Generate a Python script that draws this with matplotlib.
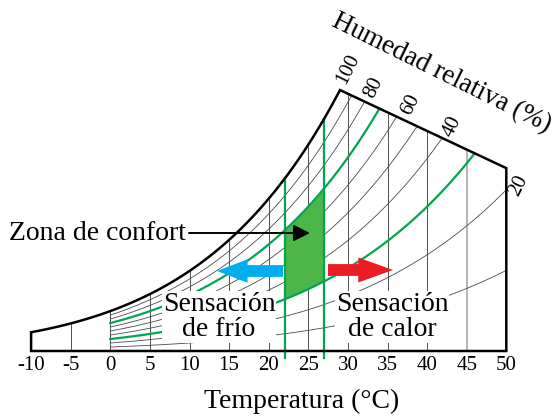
import numpy as np
import matplotlib.pyplot as plt
from matplotlib.patches import Polygon

plt.rcParams['font.family'] = ['Liberation Serif', 'DejaVu Serif']

# chart values
temp_ticks = [-10, -5, 0, 5, 10, 15, 20, 25, 30, 35, 40, 45, 50]
grid_temps = [-5, 0, 5, 10, 15, 20, 25, 30, 35, 40]
rh_gray = [10, 20, 40, 50, 60, 80, 90]
rh_green = [30, 70]
rh_labels = ['100', '80', '60', '40', '20']
comfort_temps = [22, 27]
comfort_rh = [30, 70]
t_min, t_max = -10, 50
t_corner = 29.0   # saturation curve meets the upper edge here
e_right = 2.80    # vapour pressure (kPa) at the upper right corner
t_start = 0       # humidity curves start at 0 °C


def psat(t):
    # saturation vapour pressure in kPa (Magnus)
    return 0.6112 * np.exp(17.62 * t / (243.12 + t))


# picture pixel -> data coords (only used for placing text / arrows)
X0, SX, Y0, SY = 110.3, 7.92, 351, 65.3


def P(x, y):
    return ((x - X0) / SX, (Y0 - y) / SY)


fig = plt.figure(figsize=(5.59, 4.17), dpi=100)
ax = fig.add_axes([0, 0, 1, 1])
ax.set_xlim(P(0, 0)[0], P(559, 0)[0])
ax.set_ylim(P(0, 417)[1], P(0, 0)[1])
ax.axis('off')

# outline of the chart
t_sat = np.linspace(t_min, t_corner, 200)[::-1]
bx = [t_min, t_max, t_max] + list(t_sat)
by = [0, 0, e_right] + list(psat(t_sat))
border = Polygon(np.column_stack([bx, by]), closed=True, fill=False,
                 ec='black', lw=1.8, zorder=6, joinstyle='miter')
ax.add_patch(border)

# vertical temperature lines
for t in grid_temps:
    ln, = ax.plot([t, t], [0, 6], color='#505050', lw=0.7, zorder=2)
    ln.set_clip_path(border)
ln, = ax.plot([45, 45], [0, 6], color='#a8a8a8', lw=1.2, zorder=2)
ln.set_clip_path(border)

# relative humidity curves
t = np.linspace(t_start, t_max, 400)
for rh in rh_gray:
    ln, = ax.plot(t, rh / 100 * psat(t), color='#4a4a4a', lw=0.6, zorder=2)
    ln.set_clip_path(border)

# comfort zone
tc = np.linspace(comfort_temps[0], comfort_temps[1], 60)
ax.fill_between(tc, comfort_rh[0] / 100 * psat(tc), comfort_rh[1] / 100 * psat(tc),
                color='#4cb648', lw=0, zorder=3)
for rh in rh_green:
    ln, = ax.plot(t, rh / 100 * psat(t), color='#00a651', lw=1.6, zorder=4)
    ln.set_clip_path(border)
for tv in comfort_temps:
    ax.plot([tv, tv], [-0.11, psat(tv)], color='#00a651', lw=1.6, zorder=4)

# temperature tick labels
for tv in temp_ticks:
    ax.text(tv, P(0, 366)[1], str(tv), ha='center', va='center', fontsize=15)
ax.text(*P(302, 401), 'Temperatura (°C)', ha='center', va='center', fontsize=20)

# humidity labels
rh_pos = [(348, 69), (374, 88), (411, 105), (452, 127), (519, 186)]
for lab, (px, py) in zip(rh_labels, rh_pos):
    ax.text(*P(px, py), lab, ha='center', va='center', fontsize=15,
            rotation=63.7, rotation_mode='anchor')
ax.text(*P(442, 73), 'Humedad relativa (%)', ha='center', va='center',
        fontsize=19.5, rotation=-26.3, rotation_mode='anchor')

# text blocks
box = dict(facecolor='white', edgecolor='none', pad=0.5)
ax.text(*P(219, 317), 'Sensación\nde frío', ha='center', va='center',
        fontsize=20, linespacing=1.05, bbox=box, zorder=5)
ax.text(*P(392, 317), 'Sensación\nde calor', ha='center', va='center',
        fontsize=20, linespacing=1.05, bbox=box, zorder=5)
ax.text(*P(9, 233), 'Zona de confort', ha='left', va='center', fontsize=20,
        bbox=box, zorder=5)

# arrows
ax.annotate('', xy=P(310, 233), xytext=P(189, 233), zorder=7,
            arrowprops=dict(arrowstyle='-|>,head_length=1.0,head_width=0.5',
                            color='black', lw=1.4, shrinkA=0, shrinkB=0,
                            mutation_scale=10))
ax.annotate('', xy=P(217, 271), xytext=P(283, 271), zorder=7,
            arrowprops=dict(arrowstyle='simple,head_length=2.2,head_width=1.7,tail_width=0.85',
                            color='#00aeef', lw=0, shrinkA=0, shrinkB=0,
                            mutation_scale=10))
ax.annotate('', xy=P(393, 270), xytext=P(328, 270), zorder=7,
            arrowprops=dict(arrowstyle='simple,head_length=2.5,head_width=1.8,tail_width=0.85',
                            color='#ed1c24', lw=0, shrinkA=0, shrinkB=0,
                            mutation_scale=10))

fig.savefig('out.png', dpi=100, facecolor='white')
